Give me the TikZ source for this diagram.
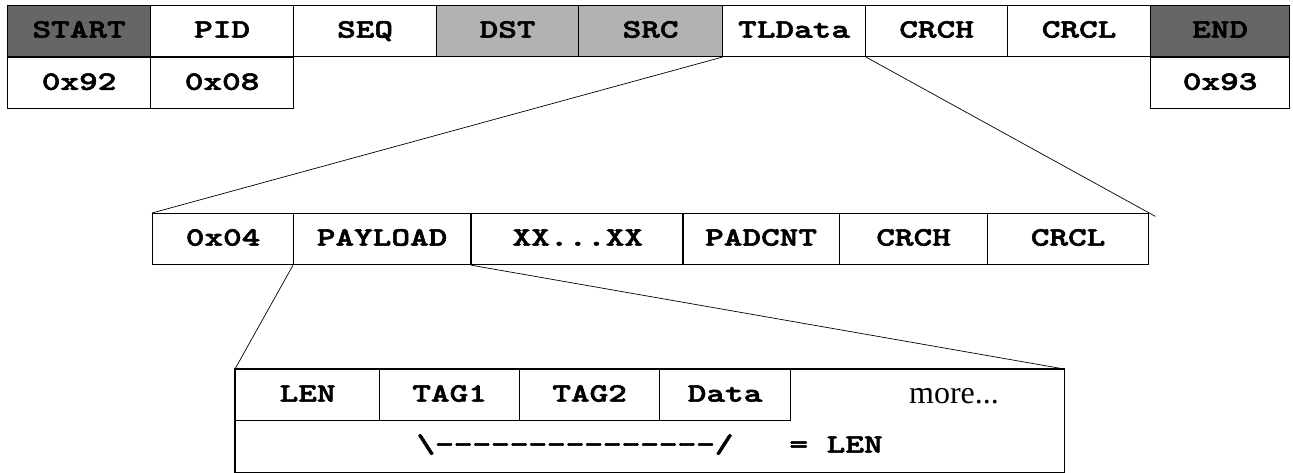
\documentclass[tikz,border=0pt]{standalone}
\usepackage{fontspec}
\setmainfont{Liberation Serif}
\setmonofont{lmmonolt10-regular.otf}[BoldFont=lmmonolt10-bold.otf,
  BoldFeatures={FakeBold=2.2}, FakeStretch=1.34]
\definecolor{darkcell}{RGB}{102,102,102}
\definecolor{lightcell}{RGB}{178,178,178}

\begin{document}
\begin{tikzpicture}[x=1pt, y=-1pt, line width=1.2pt,
    cell/.style={draw, anchor=north west, inner sep=0pt, minimum height=51pt,
      text height=16pt, text depth=3pt,
      font=\fontsize{26.5}{28}\selectfont\ttfamily\bfseries},
    zoomline/.style={line width=0.7pt}]
  \useasboundingbox (0,0) rectangle (1293,473);
  % frame header
  \foreach \x/\w/\name/\txt/\col in {7/143/start/START/darkcell, 150/143/pid/PID/white,
      293/143/seq/SEQ/white, 436/142/dst/DST/lightcell, 578/144/src/SRC/lightcell,
      722/143/tldata/TLData/white, 865/142/tcrch/CRCH/white, 1007/143/tcrcl/CRCL/white,
      1150/139/end/END/darkcell}
    \node[cell, fill=\col, minimum width=\w pt] (\name) at (\x,5) {\txt};
  \node[cell, minimum width=143pt] (vstart) at (start.south west) {0x92};
  \node[cell, minimum width=143pt] (vpid) at (pid.south west) {0x08};
  \node[cell, minimum width=139pt] (vend) at (end.south west) {0x93};
  % TLData
  \foreach \x/\w/\name/\txt in {152/141/m04/0x04, 293/177/payload/PAYLOAD,
      682/157/padcnt/PADCNT, 839/148/mcrch/CRCH, 987/161/mcrcl/CRCL}
    \node[cell, minimum width=\w pt] (\name) at (\x,213) {\txt};
  \node[cell, minimum width=212pt] (xx) at (payload.north east) {XX...XX};
  % payload
  \foreach \x/\w/\name/\txt in {235/144/len/LEN, 379/140/tag1/TAG1,
      519/140/tag2/TAG2, 659/131/data/Data}
    \node[cell, minimum width=\w pt] (\name) at (\x,369) {\txt};
  \node[font=\fontsize{32}{34}\selectfont] (more) at (954,396) {more...};
  \node[cell, draw=none, minimum width=828pt, minimum height=51pt] (lenrow) at (235,420)
    {\textbackslash{-}{-}{-}{-}{-}{-}{-}{-}{-}{-}{-}{-}{-}{-}{-}/\ \ \ = LEN};
  \draw (len.north west) rectangle (lenrow.south east);
  % zoom lines
  \draw[zoomline] (tldata.south west) -- (m04.north west);
  \draw[zoomline, shorten >=-7pt] (tldata.south east) -- (mcrcl.north east);
  \draw[zoomline] (payload.south west) -- (len.north west);
  \draw[zoomline] (payload.south east) -- (lenrow.east |- len.north);
\end{tikzpicture}
\end{document}
